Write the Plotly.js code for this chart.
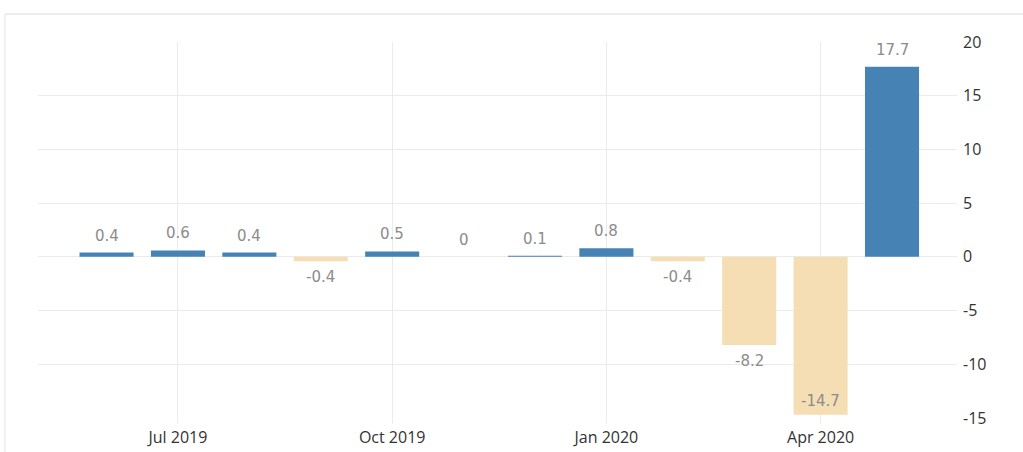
<!DOCTYPE html>
<html><head><meta charset="utf-8">
<script src="https://cdn.plot.ly/plotly-3.0.1.min.js"></script>
<style>html,body{margin:0;padding:0;background:#fff;overflow:hidden}</style>
</head><body><div id="chart" style="width:1023px;height:452px"></div>
<script>
const months = ['Jun 2019','Jul 2019','Aug 2019','Sep 2019','Oct 2019','Nov 2019','Dec 2019','Jan 2020','Feb 2020','Mar 2020','Apr 2020','May 2020'];
const values = [0.4, 0.6, 0.4, -0.4, 0.5, 0, 0.1, 0.8, -0.4, -8.2, -14.7, 17.7];
const tickLabels = ['Jul 2019','Oct 2019','Jan 2020','Apr 2020'];
const yTicks = [-15, -10, -5, 0, 5, 10, 15, 20];

const posColor = '#4682b4', negColor = '#f5deb3';
const yMin = -15, yMax = 20;
const font = 'Open Sans, Liberation Sans, sans-serif';
const labelFont = 'DejaVu Sans, Open Sans, sans-serif';

const annotations = values.map((v, i) => {
  let yanchor, yshift;
  if (v >= 0) { yanchor = 'bottom'; yshift = 6; }
  else if (v - 2.5 < yMin) { yanchor = 'bottom'; yshift = 3; }
  else { yanchor = 'top'; yshift = -5; }
  return {x: months[i], y: v, xref: 'x', yref: 'y', text: String(v), showarrow: false,
          yanchor: yanchor, yshift: yshift, font: {family: labelFont, size: 15, color: '#8c8c8c'}};
});

const shapes = [
  {type: 'line', xref: 'paper', yref: 'paper', x0: -0.036, x1: 1.08, y0: 1.0745, y1: 1.0745, line: {color: '#dcdcdc', width: 1}},
  {type: 'line', xref: 'paper', yref: 'paper', x0: -0.036, x1: -0.036, y0: 1.0745, y1: -0.1, line: {color: '#e6e6e6', width: 1}}
];

Plotly.newPlot('chart', [{
  type: 'bar', x: months, y: values,
  marker: {color: values.map(v => v >= 0 ? posColor : negColor), line: {width: 0}},
  hoverinfo: 'x+y'
}], {
  width: 1023, height: 452,
  margin: {l: 38, r: 66, t: 42, b: 34},
  paper_bgcolor: '#fff', plot_bgcolor: '#fff',
  bargap: 0.243,
  showlegend: false,
  xaxis: {type: 'category', range: [-0.96, 11.91], tickvals: tickLabels, ticktext: tickLabels,
          showgrid: true, gridcolor: '#ebebeb', ticks: 'outside', ticklen: 5, tickcolor: '#ebebeb',
          showline: false, zeroline: false, tickfont: {family: font, size: 16, color: '#333'}},
  yaxis: {side: 'right', range: [yMin, yMax], tickvals: yTicks, ticktext: yTicks.map(String),
          showgrid: true, gridcolor: '#ebebeb', zeroline: false, showline: false, ticks: '',
          ticklabelstandoff: 5, tickfont: {family: font, size: 16, color: '#333'}},
  annotations: annotations,
  shapes: shapes,
  font: {family: font}
}, {displayModeBar: false, staticPlot: true});
</script></body></html>
